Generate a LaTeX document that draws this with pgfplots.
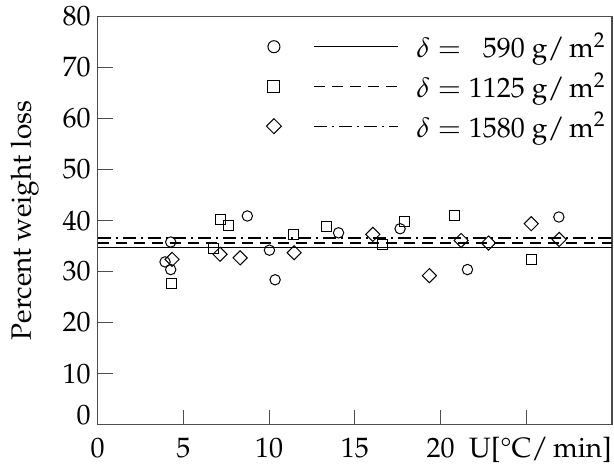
\documentclass[border=0pt]{standalone}
\usepackage[T1]{fontenc}
\usepackage{mathpazo}
\usepackage{pgfplots}
\pgfplotsset{compat=1.18}
\begin{document}
\begin{tikzpicture}[font=\fontsize{14}{17}\selectfont]
\begin{axis}[
  scale only axis, width=257pt, height=204pt,
  xmin=0, xmax=30, ymin=0, ymax=80,
  xtick={0,5,10,15,20,25},
  xticklabels={0,5,10,15,20,{}},
  xticklabel style={anchor=base, yshift=-16.5pt},
  xlabel={U[\textdegree C/\,min]},
  xlabel style={at={(rel axis cs:1,0)}, anchor=base east, yshift=-16.5pt, inner xsep=0pt},
  ytick={10,20,...,80},
  extra y ticks={0},
  extra y tick style={yticklabel style={yshift=5pt}},
  tick pos=left, tick align=inside, major tick length=7.5pt,
  axis line style={black!70, line width=0.6pt},
  tick style={black!70, line width=0.6pt},
  ylabel={Percent weight loss},
  ylabel shift=5pt,
  legend cell align=left,
  legend style={draw=none, fill=none, at={(1,1)}, anchor=north east,
    xshift=-1pt, yshift=-6pt, row sep=2pt, inner sep=0pt,
    font=\fontsize{14}{17}\selectfont},
]
\addlegendimage{legend image code/.code={
  \draw[black, line width=0.6pt, solid] (20pt,0pt) -- (62pt,0pt);
  \draw[black, line width=0.5pt, solid] plot[only marks, mark=o, mark size=3pt] coordinates {(0pt,0pt)};
  \path (69pt,0pt);
}}
\addlegendentry{$\delta = \phantom{1}590$ g/\,m$^2$}
\addlegendimage{legend image code/.code={
  \draw[black, line width=0.6pt, dash pattern=on 5.5pt off 3.5pt] (20pt,0pt) -- (62pt,0pt);
  \draw[black, line width=0.5pt, solid] plot[only marks, mark=square, mark size=3pt] coordinates {(0pt,0pt)};
  \path (69pt,0pt);
}}
\addlegendentry{$\delta = 1125$ g/\,m$^2$}
\addlegendimage{legend image code/.code={
  \draw[black, line width=0.6pt, dash pattern=on 6.5pt off 2.5pt on 1pt off 2.5pt] (20pt,0pt) -- (62pt,0pt);
  \draw[black, line width=0.5pt, solid] plot[only marks, mark=square, mark size=2.65pt, mark options={rotate=45}] coordinates {(0pt,0pt)};
  \path (69pt,0pt);
}}
\addlegendentry{$\delta = 1580$ g/\,m$^2$}

% mean lines
\addplot[forget plot, black, line width=0.6pt] coordinates {(0,34.7) (30,34.7)};
\addplot[forget plot, black, line width=0.6pt, dash pattern=on 5.5pt off 3.5pt] coordinates {(0,35.6) (30,35.6)};
\addplot[forget plot, black, line width=0.6pt, dash pattern=on 6.5pt off 2.5pt on 1pt off 2.5pt] coordinates {(0,36.6) (30,36.6)};

% 590 g/m2
\addplot[forget plot, only marks, mark=o, mark size=2.6pt, mark options={black, line width=0.5pt, fill=none}] coordinates {
(8.73,40.9) (4.26,35.8) (3.93,31.9) (4.26,30.4) (10.02,34.2) (10.35,28.4) (14.05,37.6) (17.64,38.4) (21.57,30.4) (26.9,40.7)};
% 1125 g/m2
\addplot[forget plot, only marks, mark=square, mark size=2.5pt, mark options={black, line width=0.5pt, fill=none}] coordinates {
(7.14,40.2) (7.65,39.1) (11.42,37.2) (4.30,27.6) (6.75,34.6) (13.33,38.9) (16.63,35.4) (17.9,39.9) (20.8,41.0) (25.3,32.3)};
% 1580 g/m2
\addplot[forget plot, only marks, mark=square, mark size=2.5pt, mark options={black, line width=0.5pt, fill=none, rotate=45}] coordinates {
(4.34,32.4) (7.14,33.4) (8.31,32.7) (11.46,33.7) (16.05,37.3) (19.35,29.2) (21.2,36.1) (22.8,35.6) (25.29,39.4) (26.92,36.3)};
\end{axis}
\path ([xshift=-48.8pt,yshift=-19pt]current axis.south west) rectangle ([xshift=1pt,yshift=6.5pt]current axis.north east);
\end{tikzpicture}
\end{document}
